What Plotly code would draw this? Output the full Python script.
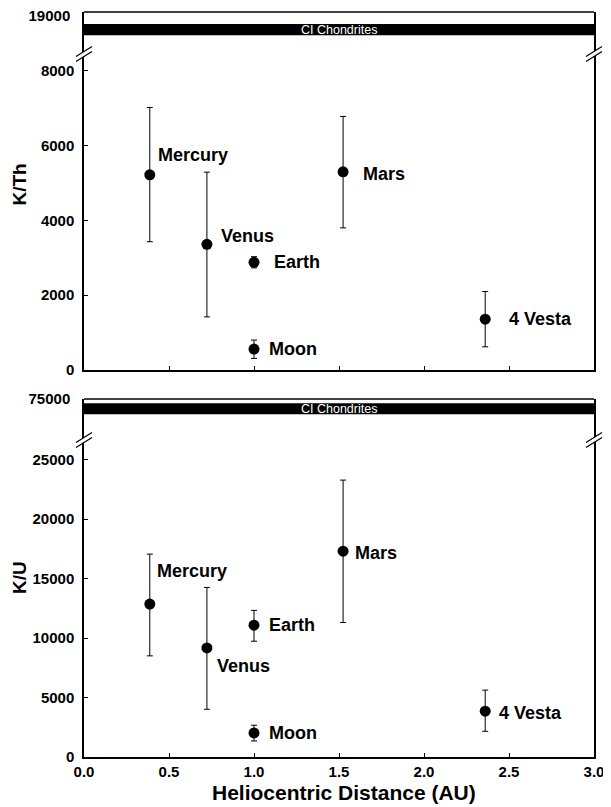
import plotly.graph_objects as go

# ---------------- data ----------------
bodies = ["Mercury", "Venus", "Earth", "Moon", "Mars", "4 Vesta"]
distance_au = [0.387, 0.723, 1.0, 1.0, 1.524, 2.36]

k_th = [5220, 3360, 2880, 560, 5300, 1360]
k_th_err_plus = [1800, 1930, 150, 240, 1480, 740]
k_th_err_minus = [1790, 1940, 150, 250, 1500, 740]

k_u = [12850, 9170, 11080, 2020, 17300, 3850]
k_u_err_plus = [4200, 5080, 1240, 650, 5970, 1770]
k_u_err_minus = [4350, 5160, 1350, 670, 6000, 1690]

ci_label = "CI Chondrites"
ci_k_th = [17985, 18580]
ci_k_u = [71270, 73950]

x_ticks = [0.0, 0.5, 1.0, 1.5, 2.0, 2.5, 3.0]
x_tick_labels = ["0.0", "0.5", "1.0", "1.5", "2.0", "2.5", "3.0"]
kth_ticks = [0, 2000, 4000, 6000, 8000]
kth_tick_labels = ["0", "2000", "4000", "6000", "8000"]
kth_break_tick = [19000]
kth_break_label = ["19000"]
ku_ticks = [0, 5000, 10000, 15000, 20000, 25000]
ku_tick_labels = ["0", "5000", "10000", "15000", "20000", "25000"]
ku_break_tick = [75000]
ku_break_label = ["75000"]

x_title = "Heliocentric Distance (AU)"
kth_title = "K/Th"
ku_title = "K/U"

# ---------------- layout constants ----------------
FONT = "Liberation Sans, Arial, Helvetica, sans-serif"
OFF = 8  # page body margin of the html page
W, H = 611 - OFF, 807 - OFF
ML, MR, MT, MB = 84 - OFF, 17, 12 - OFF, 50
PH = H - MT - MB
PLOT_BOTTOM = 757  # in window pixels


def fy(py):
    return (PLOT_BOTTOM - py) / PH


top_strip = [fy(54), 1.0]
top_main = [fy(370), fy(54)]
bot_strip = [fy(440), fy(399)]
bot_main = [0.0, fy(440)]

# label offsets in pixels (xshift, yshift)
top_offsets = [(6, 20), (12, 8), (18, 0), (13, 0), (18, -2), (22, 0)]
bot_offsets = [(5, 33), (8, -18), (13, 0), (13, 0), (10, -2), (12, -2)]

fig = go.Figure()

tickfont = dict(family=FONT, size=15, color="black", weight="bold")
labelfont = dict(family=FONT, size=18, color="black", weight="bold")

marker = dict(color="black", size=11, symbol="circle")


def err(plus, minus):
    return dict(type="data", symmetric=False, array=plus, arrayminus=minus,
                color="black", thickness=1, width=3)


fig.add_trace(go.Scatter(x=distance_au, y=k_th, mode="markers", marker=marker,
                         error_y=err(k_th_err_plus, k_th_err_minus),
                         xaxis="x2", yaxis="y3", showlegend=False))
fig.add_trace(go.Scatter(x=distance_au, y=k_u, mode="markers", marker=marker,
                         error_y=err(k_u_err_plus, k_u_err_minus),
                         xaxis="x", yaxis="y", showlegend=False))

axis_common = dict(showgrid=False, zeroline=False, showline=True, linecolor="black",
                   linewidth=1.5, mirror=True, ticks="inside", ticklen=4,
                   tickcolor="black", tickwidth=1, tickfont=tickfont,
                   automargin=False, ticklabeloverflow="allow")

fig.update_layout(
    template="none",
    width=W, height=H, autosize=False,
    margin=dict(l=ML, r=MR, t=MT, b=MB, pad=0),
    plot_bgcolor="white", paper_bgcolor="white",
    font=dict(family=FONT, color="black"),
    showlegend=False,
    xaxis=dict(axis_common, range=[0, 3], domain=[0, 1], anchor="y",
               tickvals=x_ticks, ticktext=x_tick_labels, ticklabelstandoff=0,
               mirror=False),
    xaxis2=dict(axis_common, range=[0, 3], domain=[0, 1], anchor="y3",
                tickvals=x_ticks, showticklabels=False, mirror=False, matches="x"),
    yaxis=dict(axis_common, range=[0, 26639], domain=bot_main, anchor="x",
               tickvals=ku_ticks, ticktext=ku_tick_labels, ticklabelstandoff=5),
    yaxis2=dict(axis_common, range=[65000, 75000], domain=bot_strip, anchor="x",
                tickvals=ku_break_tick, ticktext=ku_break_label, ticks="",
                ticklabelstandoff=9),
    yaxis3=dict(axis_common, range=[0, 8449], domain=top_main, anchor="x2",
                tickvals=kth_ticks, ticktext=kth_tick_labels, ticklabelstandoff=5),
    yaxis4=dict(axis_common, range=[17000, 19210], domain=top_strip, anchor="x2",
                tickvals=kth_break_tick, ticktext=kth_break_label, ticks="",
                ticklabelstandoff=9),
)

shapes = []
annotations = []

# CI chondrite bands and top frame lines of strips
for yref, band in (("y4", ci_k_th), ("y2", ci_k_u)):
    shapes.append(dict(type="rect", xref="x domain", x0=0, x1=1, yref=yref,
                       y0=band[0], y1=band[1], fillcolor="black",
                       line=dict(width=0), layer="above"))
    shapes.append(dict(type="line", xref="x domain", x0=0, x1=1,
                       yref=yref + " domain", y0=1, y1=1,
                       line=dict(color="black", width=1.5), layer="above"))
    annotations.append(dict(text=ci_label, xref="x domain", x=0.5, yref=yref,
                            y=(band[0] + band[1]) / 2, showarrow=False,
                            font=dict(family=FONT, size=12.5, color="white"),
                            xanchor="center", yanchor="middle"))

# axis break marks
for yb in (fy(54), fy(440)):
    for xa in (0, 1):
        shapes.append(dict(type="path", xref="paper", yref="paper",
                           xsizemode="pixel", ysizemode="pixel",
                           xanchor=xa, yanchor=yb,
                           path="M -8,-7.5 L 8,2.5 L 8,7.5 L -8,-2.5 Z",
                           fillcolor="white", line=dict(width=0), layer="above"))
        shapes.append(dict(type="path", xref="paper", yref="paper",
                           xsizemode="pixel", ysizemode="pixel",
                           xanchor=xa, yanchor=yb,
                           path="M -8,-7.5 L 8,2.5 M -8,-2.5 L 8,7.5",
                           line=dict(color="black", width=1.2), layer="above"))

# body labels
for i, name in enumerate(bodies):
    dx, dy = top_offsets[i]
    annotations.append(dict(text=name, x=distance_au[i], y=k_th[i], xref="x2", yref="y3",
                            xanchor="left", yanchor="middle", xshift=dx, yshift=dy,
                            showarrow=False, font=labelfont))
    dx, dy = bot_offsets[i]
    annotations.append(dict(text=name, x=distance_au[i], y=k_u[i], xref="x", yref="y",
                            xanchor="left", yanchor="middle", xshift=dx, yshift=dy,
                            showarrow=False, font=labelfont))

# axis titles
annotations.append(dict(text=x_title, xref="paper", yref="paper", x=0.51, y=fy(792),
                        xanchor="center", yanchor="middle", showarrow=False,
                        font=dict(family=FONT, size=21, color="black", weight="bold")))
annotations.append(dict(text=kth_title, xref="paper", yref="paper", x=0, xshift=-65,
                        y=fy(184.5), textangle=-90, xanchor="center", yanchor="middle",
                        showarrow=False,
                        font=dict(family=FONT, size=19, color="black", weight="bold")))
annotations.append(dict(text=ku_title, xref="paper", yref="paper", x=0, xshift=-65,
                        y=fy(578), textangle=-90, xanchor="center", yanchor="middle",
                        showarrow=False,
                        font=dict(family=FONT, size=19, color="black", weight="bold")))

fig.update_layout(shapes=shapes, annotations=annotations)
fig.write_html("out.html")
